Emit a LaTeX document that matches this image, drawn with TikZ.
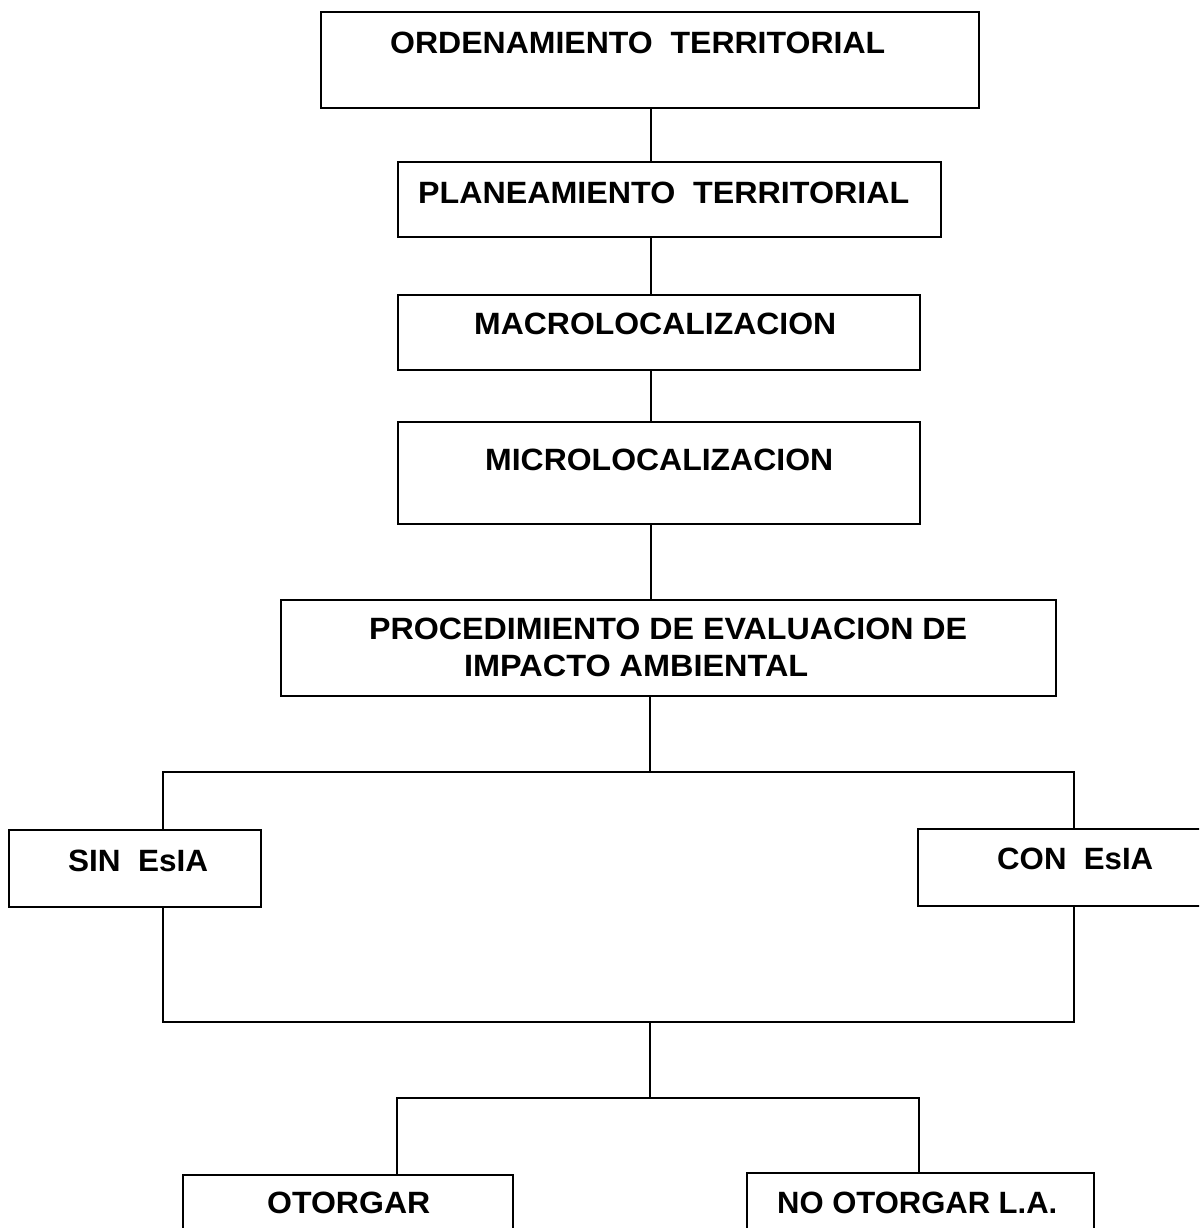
\documentclass[tikz,border=0pt]{standalone}
\usepackage{fontspec}
\setmainfont{Liberation Sans}
\newcommand\fitt[2]{\resizebox{#1}{21.5pt}{#2}}
\begin{document}
\begin{tikzpicture}[x=1pt,y=-1pt,
  box/.style={draw, line width=1.5pt, anchor=north west, inner sep=0pt, outer sep=0pt},
  lbl/.style={anchor=base west, inner sep=0pt, font=\bfseries},
  conn/.style={line width=1.1pt}]
\clip (0,0) rectangle (1199,1228);
\useasboundingbox (0,0) rectangle (1199,1228);
% boxes
\node[box, minimum width=658pt, minimum height=96pt] (b1) at (321,12) {};
\node[box, minimum width=543pt, minimum height=75pt] (b2) at (398,162) {};
\node[box, minimum width=522pt, minimum height=75pt] (b3) at (398,295) {};
\node[box, minimum width=522pt, minimum height=102pt] (b4) at (398,422) {};
\node[box, minimum width=775pt, minimum height=96pt] (b5) at (281,600) {};
\node[box, minimum width=252pt, minimum height=77pt] (sin) at (9,830) {};
\node[box, minimum width=297pt, minimum height=77pt] (con) at (918,829) {};
\node[box, minimum width=330pt, minimum height=80pt] (oto) at (183,1175) {};
\node[box, minimum width=347pt, minimum height=80pt] (noto) at (747,1173) {};
% labels
\node[lbl] (t1) at (390,54) {\fitt{495pt}{ORDENAMIENTO\ \ TERRITORIAL}};
\node[lbl] (t2) at (418,203) {\fitt{491pt}{PLANEAMIENTO\ \ TERRITORIAL}};
\node[lbl] (t3) at (474,334) {\fitt{362pt}{MACROLOCALIZACION}};
\node[lbl] (t4) at (485,470) {\fitt{348pt}{MICROLOCALIZACION}};
\node[lbl] (t5a) at (369,639) {\fitt{598pt}{PROCEDIMIENTO DE EVALUACION DE}};
\node[lbl] (t5b) at (464,676) {\fitt{344pt}{IMPACTO AMBIENTAL}};
\node[lbl] (t6) at (68,871) {\fitt{140pt}{SIN\ \ EsIA}};
\node[lbl] (t7) at (997,869) {\fitt{156pt}{CON\ \ EsIA}};
\node[lbl] (t8) at (267,1213) {\fitt{163pt}{OTORGAR}};
\node[lbl] (t9) at (777,1213) {\fitt{280pt}{NO OTORGAR L.A.}};
% connector coordinates
\coordinate (spine) at (651,0);
\coordinate (j1) at (650,772);
\coordinate (jl) at (163,772);
\coordinate (jr) at (1074,772);
\coordinate (kl) at (163,1022);
\coordinate (kr) at (1074,1022);
\coordinate (k) at (650,1022);
\coordinate (m) at (650,1098);
\coordinate (ml) at (397,1098);
\coordinate (mr) at (919,1098);
% connectors
\draw[conn] (b1.south -| spine) -- (b2.north -| spine);
\draw[conn] (b2.south -| spine) -- (b3.north -| spine);
\draw[conn] (b3.south -| spine) -- (b4.north -| spine);
\draw[conn] (b4.south -| spine) -- (b5.north -| spine);
\draw[conn] (b5.south -| j1) -- (j1);
\draw[conn] (sin.north -| jl) -- (jl) -- (jr) -- (con.north -| jr);
\draw[conn] (sin.south -| kl) -- (kl) -- (kr) -- (con.south -| kr);
\draw[conn] (k) -- (m);
\draw[conn] (oto.north -| ml) -- (ml) -- (mr) -- (noto.north -| mr);
\end{tikzpicture}
\end{document}
